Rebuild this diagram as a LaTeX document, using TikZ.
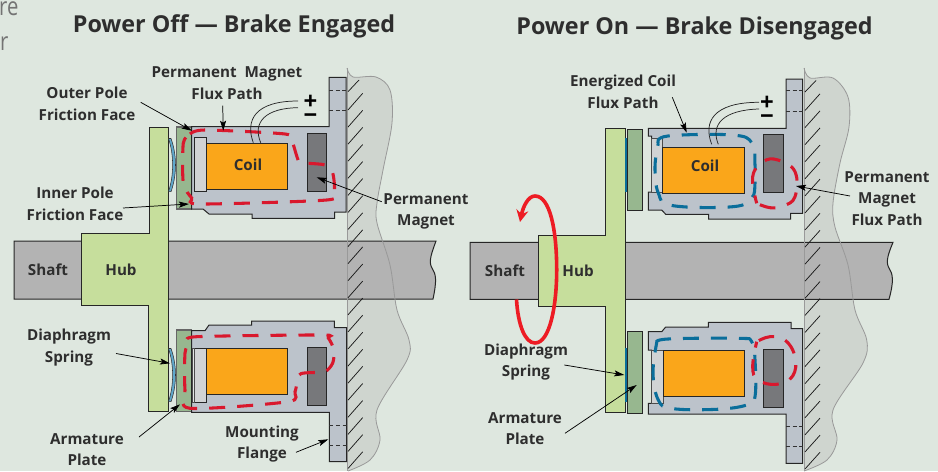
\documentclass[tikz,border=0pt]{standalone}
\usepackage{fontspec}
\setmainfont{Open Sans}
\usetikzlibrary{arrows.meta}
\definecolor{bgc}{HTML}{DEE7DF}
\definecolor{platec}{HTML}{C6DE9C}
\definecolor{armc}{HTML}{97B78F}
\definecolor{housec}{HTML}{BCC3CB}
\definecolor{coilc}{HTML}{FAA61A}
\definecolor{magc}{HTML}{77787B}
\definecolor{slugc}{HTML}{D1D3D4}
\definecolor{shaftc}{HTML}{B3B3B3}
\definecolor{wallc}{HTML}{CFD5CF}
\definecolor{txtc}{HTML}{2E2E2E}
\definecolor{fluxr}{HTML}{D9182D}
\definecolor{fluxb}{HTML}{0A6E9B}
\definecolor{rotc}{HTML}{ED1C24}
\definecolor{sprc}{HTML}{5FA8CC}
\tikzset{
  part/.style={draw=black!85,line width=0.75pt,line join=miter},
  softpart/.style={draw=black!60,line width=0.9pt},
  flux/.style={line width=2.3pt,dash pattern=on 12pt off 9pt},
  wallline/.style={draw=black!40,line width=0.6pt},
  hatchline/.style={draw=black!90,line width=0.55pt},
  flangedash/.style={draw=black!80,line width=0.5pt,dash pattern=on 3pt off 2pt},
  wire/.style={draw=black!85,line width=0.55pt},
  pointer/.style={draw=black,line width=0.55pt,-{Stealth[length=7.5pt,width=4.5pt,inset=1.5pt]}},
  lbl/.style={font=\fontsize{11.4pt}{16.3pt}\selectfont\bfseries,text=txtc,align=center,inner sep=0pt},
  ttl/.style={font=\fontsize{17.5pt}{20pt}\selectfont\bfseries,text=txtc,inner sep=0pt},
  sign/.style={font=\fontsize{18pt}{11pt}\selectfont\bfseries,text=black,inner sep=0pt,align=center},
  stray/.style={font=\fontsize{19pt}{20pt}\selectfont,text=black!55,inner sep=0pt,anchor=base west,xscale=.8,transform shape}
}
\begin{document}
\begin{tikzpicture}[x=0.75pt,y=-0.75pt]
\useasboundingbox (0,0) rectangle (938,471);
\clip (0,0) rectangle (938,471);
\fill[bgc] (0,0) rectangle (938,471);
\node[stray] (strayA) at (-1,15.5) {re};
\node[stray] (strayB) at (0,50) {r};

% ---------- walls
\fill[wallc] plot[smooth,tension=.55] coordinates {(347,68) (353,77) (376,77) (390,90) (392,123) (383,170) (377,203) (377,223) (390,265) (397,310) (409,340) (407,360) (377,410) (380,440) (370,460) (348,471)} -- cycle;
\fill[wallc] plot[smooth,tension=.55] coordinates {(804,68) (810,78) (833,78) (848,97) (849,127) (840,163) (833,203) (835,227) (848,265) (855,310) (866.7,340) (863,363) (833,410) (837,440) (827,460) (804,471)} -- cycle;

% ---------- shafts
\draw[part,fill=shaftc] (14,241) -- (436,241) .. controls (432,252) and (428,262) .. (432,268) .. controls (436,274) and (437,280) .. (433,299) -- (14,299) -- cycle;
\draw[part,fill=shaftc] (470,242.3) -- (893,242.3) .. controls (889,252) and (885,262) .. (889,268) .. controls (893,274) and (894,281) .. (889,299.3) -- (470,299.3) -- cycle;
\draw[wallline] plot[smooth,tension=.55] coordinates {(347,68) (353,77) (376,77) (390,90) (392,123) (383,170) (377,203) (377,223) (390,265) (397,310) (409,340) (407,360) (377,410) (380,440) (370,460) (348,471)};
\draw[wallline] plot[smooth,tension=.55] coordinates {(804,68) (810,78) (833,78) (848,97) (849,127) (840,163) (833,203) (835,227) (848,265) (855,310) (866.7,340) (863,363) (833,410) (837,440) (827,460) (804,471)};
\draw[wallline] (347,68) -- (347,471);
\draw[wallline] (804,68) -- (804,471);

% ---------- hatching
\draw[hatchline] (348,91.7) -- (359,80);
\draw[hatchline] (805,92) -- (816,80.5);
\foreach \k in {0,...,21}{
  \draw[hatchline] (348,{93.3+17.07*\k+16.7}) -- (362.7,{93.3+17.07*\k});
  \draw[hatchline] (805,{93.8+17.07*\k+16.7}) -- (820,{93.8+17.07*\k});
}

% ---------- hub + plate
\draw[part,fill=platec] (149,127) -- (168,127) -- (168,411.7) -- (148.5,411.7) -- (148.5,305) -- (81,305) -- (81,233) -- (149,233) -- cycle;
\draw[part,fill=platec] (605.7,128.3) -- (625,128.3) -- (625,412.3) -- (605.7,412.3) -- (605.7,306.7) -- (538.3,306.7) -- (538.3,235) -- (605.7,235) -- cycle;

% ---------- springs
\draw[draw=black!80,line width=0.4pt,fill=sprc] (168.5,138.5) -- (171,138.5) .. controls (177,155) and (177,175) .. (171,191.7) -- (168.5,191.7) .. controls (174,175) and (174,155) .. cycle;
\draw[draw=black!80,line width=0.4pt,fill=sprc] (168.5,348.5) -- (171,348.5) .. controls (177,365) and (177,385) .. (171,401.7) -- (168.5,401.7) .. controls (174,385) and (174,365) .. cycle;
\fill[fluxb] (625,137.7) rectangle (627.3,191.7);
\fill[fluxb] (625,348.3) rectangle (627.3,402.3);

% ---------- armatures
\draw[softpart,fill=armc] (176.3,127) rectangle (191.7,209);
\draw[softpart,fill=armc] (176.3,330) rectangle (191.7,411.7);
\draw[part,fill=armc] (627.3,129) rectangle (642.7,210.3);
\draw[part,fill=armc] (627.3,331.7) rectangle (642.7,413.3);

% ---------- housings, left
\draw[part,fill=housec] (191.7,126.7) -- (329,126.7) -- (329,77.3) -- (346,77.3) -- (346,212) -- (334.5,212) -- (334.5,218.3) -- (252,218.3) -- (252,214) -- (209,214) -- (203,209) -- (191.7,209) -- cycle;
\draw[part,fill=housec] (191.7,330.7) -- (205,330.7) -- (209,325) -- (251.7,325) -- (251.7,321) -- (334.3,321) -- (334.3,327.7) -- (346.7,327.7) -- (346.7,461.7) -- (329.3,461.7) -- (329.3,412.3) -- (191.7,412.3) -- cycle;
\draw[part,fill=slugc,line width=0.5pt] (194.3,137.3) rectangle (206,191);
\draw[part,fill=slugc,line width=0.5pt] (194.3,348.3) rectangle (206.3,402);
\draw[draw=black!70,line width=0.4pt,fill=slugc!60!white] (191.9,348.3) rectangle (194.3,402);
\draw[part,fill=coilc] (206,143.3) rectangle (287.7,189.3);
\draw[part,fill=coilc] (206.3,348.3) rectangle (287.7,394.7);
\draw[part,fill=magc] (307.3,133.3) rectangle (326.7,191.3);
\draw[part,fill=magc] (307.3,347.3) rectangle (326.7,405.7);
\draw[flangedash] (329,90) -- (346,90);
\draw[flangedash] (329,110) -- (346,110);
\draw[flangedash] (329.3,425) -- (346.7,425);
\draw[flangedash] (329.3,445) -- (346.7,445);

% ---------- housings, right
\draw[part,fill=housec] (648.3,128.3) -- (786,128.3) -- (786,79) -- (802.7,79) -- (802.7,213.3) -- (790.7,213.3) -- (790.7,219) -- (708.7,219) -- (708.7,214.3) -- (665.7,214.3) -- (661.7,210) -- (648.3,210) -- (648.3,192) -- (651.7,192) -- (651.7,136) -- (648.3,136) -- cycle;
\draw[part,fill=housec] (648.3,331.7) -- (661.7,331.7) -- (665.7,327) -- (708.3,327) -- (708.3,322.3) -- (791,322.3) -- (791,328.7) -- (802.7,328.7) -- (802.7,463.3) -- (786,463.3) -- (786,414) -- (648.3,414) -- (648.3,403.3) -- (651.7,403.3) -- (651.7,350) -- (648.3,350) -- cycle;
\draw[draw=black!70,line width=0.4pt,fill=slugc] (651.7,138) rectangle (662.7,192);
\draw[draw=black!70,line width=0.4pt,fill=slugc] (651.7,350) rectangle (663.3,403.3);
\draw[part,fill=coilc] (662.7,147.3) rectangle (744.7,193.3);
\draw[part,fill=coilc] (663.3,350.3) rectangle (744.7,396.3);
\draw[part,fill=magc] (763.7,134.3) rectangle (783.7,192.7);
\draw[part,fill=magc] (763.7,349) rectangle (783.7,407.3);
\draw[flangedash] (786,90.7) -- (802.7,90.7);
\draw[flangedash] (786,111) -- (802.7,111);
\draw[flangedash] (786,426) -- (802.7,426);
\draw[flangedash] (786,446.3) -- (802.7,446.3);

% ---------- flux paths
\draw[flux,fluxr] plot[smooth,tension=.45] coordinates {(190,134) (205,130) (285,134) (292,141) (299,161.7) (308.3,163.3) (325,165) (332.7,173) (334.3,191.7) (326.7,200) (200,204) (191.7,198) (183.3,183) (183.3,143) (190,134)};
\draw[flux,fluxr,dash phase=18pt] plot[smooth,tension=.45] coordinates {(189.3,341.7) (196.7,336.7) (321.7,335) (328.3,338) (334,350) (332.7,363) (325,371.7) (308.3,372.7) (299.3,375) (295,391.7) (288.3,401.7) (190,408.3) (185,390) (185,353) (189.3,341.7)};
\draw[flux,fluxb] plot[smooth,tension=.65] coordinates {(658.3,143.3) (668,136) (732,135) (752,143) (755,165) (755,183) (751.7,198) (733,206.7) (672,205.5) (658.3,193) (655,166.7) (658.3,143.3)};
\draw[flux,fluxb] plot[smooth,tension=.65] coordinates {(656.7,342.7) (668,339) (738,338.3) (751.7,341.7) (755,360) (755,396.7) (746.7,405) (716.7,409.3) (672,408.5) (658.3,400) (653,373) (656.7,342.7)};
\draw[flux,fluxr,dash phase=6pt] plot[smooth,tension=.7] coordinates {(756.7,203.3) (752.7,176.7) (763,161.7) (778,160) (795,171.7) (795,196.7) (783,206) (770,207.7) (756.7,203.3)};
\draw[flux,fluxr,dash phase=7.5pt] plot[smooth,tension=.7] coordinates {(756.7,341.7) (752.7,366.7) (758,380) (776.7,384.3) (792.7,376) (795,356.7) (785,340) (770,336.7) (756.7,341.7)};

% ---------- rotation arrow
\draw[rotc,line width=2.7pt,-{Stealth[length=9pt,width=9pt,inset=3pt]}] (516.5,299.5) .. controls (518,325) and (525,343) .. (535,343) .. controls (550,343) and (556.7,305) .. (556.7,270) .. controls (556.7,230) and (550,196) .. (535,196) .. controls (528,196) and (523,207) .. (520,222);

% ---------- wires
\draw[wire] (253.3,142.7) .. controls (245,120) and (255,101) .. (298,101);
\draw[wire] (260.7,142.7) .. controls (252,122) and (266,108) .. (298,107.7);
\draw[wire] (711.7,144.3) .. controls (703,122) and (713,102.3) .. (759,102.3);
\draw[wire] (718.3,144.3) .. controls (710,124) and (724,110) .. (759,109);
\node[sign] (signsL) at (310.5,109.5) {+\\\char"2212};
\node[sign] (signsR) at (767,110.5) {+\\\char"2212};

% ---------- labels
\node[ttl] (titleL) at (234,26) {Power Off — Brake Engaged};
\node[ttl] (titleR) at (694.5,28) {Power On — Brake Disengaged};
\node[lbl] (pmfp) at (227,83.5) {Permanent\ \ Magnet\\Flux Path};
\node[lbl] (outer) at (87,104) {Outer Pole\\Friction Face};
\node[lbl] (inner) at (75,204) {Inner Pole\\Friction Face};
\node[lbl] (coilL) at (248,165) {Coil};
\node[lbl] (pmL) at (426,211.5) {Permanent\\Magnet};
\node[lbl] (shaftL) at (48,270) {Shaft};
\node[lbl] (hubL) at (121,270) {Hub};
\node[lbl] (diaL) at (69,347.5) {Diaphragm\\Spring};
\node[lbl] (armL) at (87,449.5) {Armature\\Plate};
\node[lbl] (mount) at (262,444) {Mounting\\Flange};
\node[lbl] (ecfp) at (623,92) {Energized Coil\\Flux Path};
\node[lbl] (coilR) at (705,166) {Coil};
\node[lbl] (pmR) at (887,198.5) {Permanent\\Magnet\\Flux Path};
\node[lbl] (shaftR) at (505,271) {Shaft};
\node[lbl] (hubR) at (578,271) {Hub};
\node[lbl] (diaR) at (526,362) {Diaphragm\\Spring};
\node[lbl] (armR) at (525,428.5) {Armature\\Plate};

% ---------- pointer ends
\coordinate (eOuter) at (191.7,130.7);
\coordinate (eInner) at (189,204);
\coordinate (ePmfp) at (223.3,130.7);
\coordinate (ePmL) at (316.7,177.3);
\coordinate (eDiaL) at (170,363.3);
\coordinate (eArmL) at (180,404.3);
\coordinate (eMount) at (328.3,439.3);
\coordinate (eEcfp) at (686.7,132.7);
\coordinate (ePmR) at (796,186);
\coordinate (eDiaR) at (624.3,375);
\coordinate (eArmR) at (636.7,385);
\coordinate (sOuter) at (140.7,102.3);
\coordinate (sInner) at (123,208);
\coordinate (sPmfp) at (222.7,105.7);
\coordinate (sPmL) at (381.7,201.7);
\coordinate (sDiaL) at (116,353.5);
\coordinate (sArmL) at (139,437);
\coordinate (sMount) at (296,452.3);
\coordinate (sEcfp) at (672.3,97.3);
\coordinate (sPmR) at (850,196);
\coordinate (sDiaR) at (564.3,365);
\coordinate (sArmR) at (565,433.3);
\draw[pointer] (sOuter) -- (eOuter);
\draw[pointer] (sInner) -- (eInner);
\draw[pointer] (sPmfp) -- (ePmfp);
\draw[pointer] (sPmL) -- (ePmL);
\draw[pointer] (sDiaL) -- (eDiaL);
\draw[pointer] (sArmL) -- (eArmL);
\draw[pointer] (sMount) -- (eMount);
\draw[pointer] (sEcfp) -- (eEcfp);
\draw[pointer] (sPmR) -- (ePmR);
\draw[pointer] (sDiaR) -- (eDiaR);
\draw[pointer] (sArmR) -- (eArmR);
\end{tikzpicture}
\end{document}
